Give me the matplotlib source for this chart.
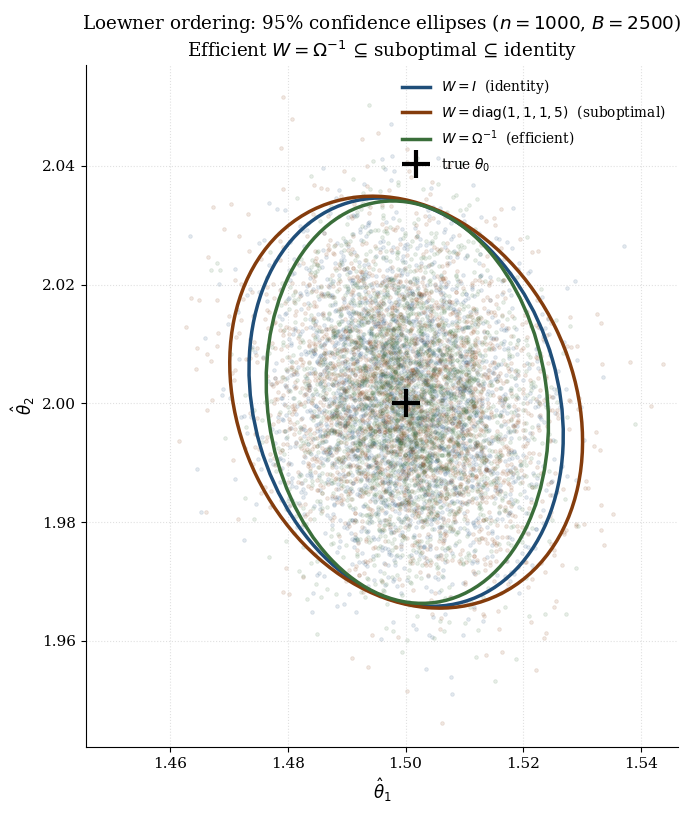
import numpy as np
import matplotlib.pyplot as plt
from matplotlib.patches import Ellipse

plt.rcParams['font.family'] = 'DejaVu Serif'
plt.rcParams['mathtext.fontset'] = 'dejavusans'

# true parameter and bootstrap setup
theta0 = [1.50, 2.00]
n_obs = 1000
B = 2500

# estimated means / covariances (read off the ellipses) per weighting matrix
labels = [r'$W = I$  (identity)',
          r'$W = \mathrm{diag}(1,1,1,5)$  (suboptimal)',
          r'$W = \Omega^{-1}$  (efficient)']
colors = ['#1f4e79', '#843c0c', '#3a6e3a']
means = [[1.5001, 2.0002], [1.5001, 2.0002], [1.5003, 2.0002]]
covs = [[[1.19e-4, -2.5e-5], [-2.5e-5, 1.975e-4]],
        [[1.50e-4, -3.3e-5], [-3.3e-5, 2.01e-4]],
        [[0.96e-4, -1.4e-5], [-1.4e-5, 1.918e-4]]]

chi2_95 = 5.991

fig = plt.figure(figsize=(6.92, 8.13), dpi=100)
ax = fig.add_axes([0.1243, 0.0812, 0.8555, 0.8388])

# bootstrap clouds (simulated draws from each estimator's sampling distribution)
rng = np.random.default_rng(7)
for m, S, c in zip(means, covs, colors):
    pts = rng.multivariate_normal(m, S, size=B)
    ax.scatter(pts[:, 0], pts[:, 1], s=7, color=c, alpha=0.12, lw=0.6)

# confidence ellipses
for m, S, c, lab in zip(means, covs, colors, labels):
    vals, vecs = np.linalg.eigh(np.array(S))
    order = vals.argsort()[::-1]
    vals, vecs = vals[order], vecs[:, order]
    ang = np.degrees(np.arctan2(vecs[1, 0], vecs[0, 0]))
    w, h = 2 * np.sqrt(chi2_95 * vals)
    e = Ellipse(m, w, h, angle=ang, fill=False, ec=c, lw=2.5, zorder=4)
    ax.add_patch(e)
    ax.plot([], [], color=c, lw=2.5, label=lab)

ax.plot(theta0[0], theta0[1], '+', color='black', ms=20, mew=3, zorder=5,
        label=r'true $\theta_0$')

ax.set_xlim(1.4457, 1.5463)
ax.set_ylim(1.9421, 2.057)
ax.set_xticks([1.46, 1.48, 1.50, 1.52, 1.54])
ax.set_yticks([1.96, 1.98, 2.00, 2.02, 2.04])
ax.tick_params(labelsize=11)
ax.grid(True, ls=':', color='#cccccc', lw=0.8, alpha=0.6)
ax.spines['top'].set_visible(False)
ax.spines['right'].set_visible(False)

ax.set_xlabel(r'$\hat{\theta}_1$', fontsize=12)
ax.set_ylabel(r'$\hat{\theta}_2$', fontsize=12)
ax.set_title(f'Loewner ordering: 95% confidence ellipses ($n = {n_obs}$, $B = {B}$)\n'
             'Efficient $W = \\Omega^{-1}$ ⊆ suboptimal ⊆ identity',
             fontsize=13.2)
ax.legend(loc='upper right', frameon=False, fontsize=9.9, labelspacing=0.5)

fig.savefig('out.png', dpi=100)
